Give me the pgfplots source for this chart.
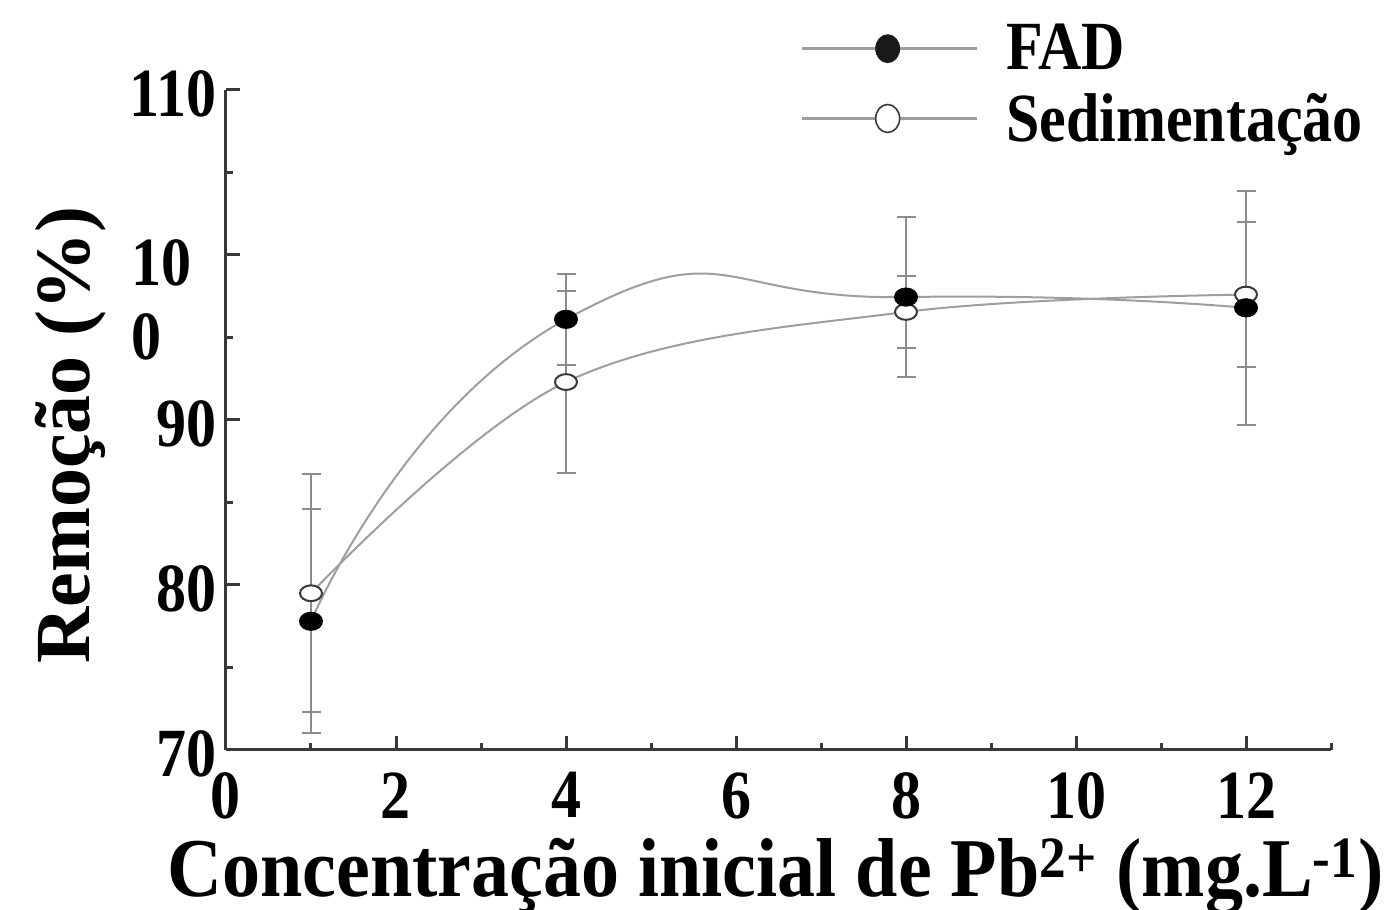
\documentclass[border=0pt]{standalone}
\usepackage{fontspec}
\setmainfont{Liberation Serif}
\usepackage{pgfplots}
\usepackage{pgfplotstable}
\pgfplotsset{compat=1.18}

\definecolor{curve}{gray}{0.62}
\definecolor{ebar}{gray}{0.55}
\definecolor{axisc}{gray}{0.22}
\definecolor{mk}{gray}{0.1}

\newcommand{\st}[1]{\scalebox{1}[1.15]{#1}}

\pgfplotstableread{
x y e
1 77.8 6.8
4 96.1 2.75
8 97.45 4.85
12 96.8 7.1
}\fad
\pgfplotstableread{
x y e
1 79.5 7.2
4 92.3 5.5
8 96.55 2.2
12 97.6 4.4
}\sed

\begin{document}
\begin{tikzpicture}[x=1pt,y=1pt]
\path[use as bounding box] (0,0) rectangle (697,455);
\begin{axis}[
  at={(113pt,80pt)}, anchor=south west,
  scale only axis, width=552.5pt, height=330pt,
  xmin=0, xmax=13, ymin=70, ymax=110,
  axis lines*=left,
  axis line style={draw=axisc, line width=1.5pt},
  xtick={0,2,...,12}, minor xtick={1,3,...,13},
  xticklabels={\st{0},\st{2},\st{4},\st{6},\st{8},\st{10},\st{12}},
  ytick={70,80,...,110}, minor ytick={75,85,...,105},
  yticklabels={\st{70},\st{80},\st{90},{},\st{110}},
  tick align=inside,
  major tick length=7pt, minor tick length=3.5pt,
  every tick/.style={draw=axisc, line width=1.5pt},
  clip=false,
  ticklabel style={font=\fontsize{30}{30}\selectfont\bfseries},
  xticklabel style={anchor=north, inner sep=0pt, yshift=-11pt},
  yticklabel style={anchor=east, inner sep=0pt, xshift=-4.5pt, yshift=-2pt},
  xlabel={\scalebox{1}[1.1]{Concentração inicial de Pb\textsuperscript{2+} (mg.L\textsuperscript{-1})}},
  ylabel={Remoção (\%)},
  xlabel style={at={(axis description cs:0.4973,-0.2227)}, anchor=base, inner sep=0pt, font=\fontsize{38}{38}\selectfont\bfseries},
  ylabel style={at={(axis description cs:-0.1231,0.477)}, anchor=base, inner sep=0pt, font=\fontsize{39}{39}\selectfont\bfseries},
  legend style={at={(axis description cs:0.5195,1.10)}, anchor=north west, draw=none, fill=none, inner sep=0pt, nodes={inner sep=0pt}, row sep=10pt, font=\fontsize{30}{30}\selectfont\bfseries},
  legend cell align=left,
]
% error bars
\addplot[draw=none, mark=none, forget plot,
  error bars/.cd, y dir=both, y explicit,
  error bar style={draw=ebar, line width=1pt},
  error mark options={rotate=90, mark size=4.75pt, draw=ebar, line width=1pt}]
  table[x=x, y=y, y error=e] {\sed};
\addplot[draw=none, mark=none, forget plot,
  error bars/.cd, y dir=both, y explicit,
  error bar style={draw=ebar, line width=1pt},
  error mark options={rotate=90, mark size=4.75pt, draw=ebar, line width=1pt}]
  table[x=x, y=y, y error=e] {\fad};
% curves
\addplot[curve, line width=1pt, smooth, tension=0.6, mark=*, mark size=5.5pt,
  mark options={draw=axisc, fill=white, line width=1pt, yscale=0.72}, forget plot]
  table[x=x, y=y] {\sed};
\addplot[curve, line width=1pt, smooth, tension=1, mark=*, mark size=5.5pt,
  mark options={draw=black, fill=black, yscale=0.78}, forget plot]
  table[x=x, y=y] {\fad};
% legend
\addlegendimage{legend image code/.code={
  \draw[curve, line width=1.2pt] (0pt,0pt) -- (87.5pt,0pt);
  \fill[mk] (43pt,0pt) ellipse (6pt and 7pt);
  \path (102pt,0pt);}}
\addlegendentry{\st{FAD}}
\addlegendimage{legend image code/.code={
  \draw[curve, line width=1.2pt] (0pt,0pt) -- (87.5pt,0pt);
  \filldraw[fill=white, draw=axisc, line width=0.8pt] (43pt,0pt) ellipse (6pt and 7pt);
  \path (102pt,0pt);}}
\addlegendentry{\st{Sedimentação}}
% the wrapped "100" tick label
\node[font=\fontsize{30}{30}\selectfont\bfseries, inner sep=0pt] at (axis cs:-0.759,99.52) {\st{10}};
\node[font=\fontsize{30}{30}\selectfont\bfseries, inner sep=0pt] at (axis cs:-0.935,95.03) {\st{0}};
\end{axis}
\end{tikzpicture}
\end{document}
